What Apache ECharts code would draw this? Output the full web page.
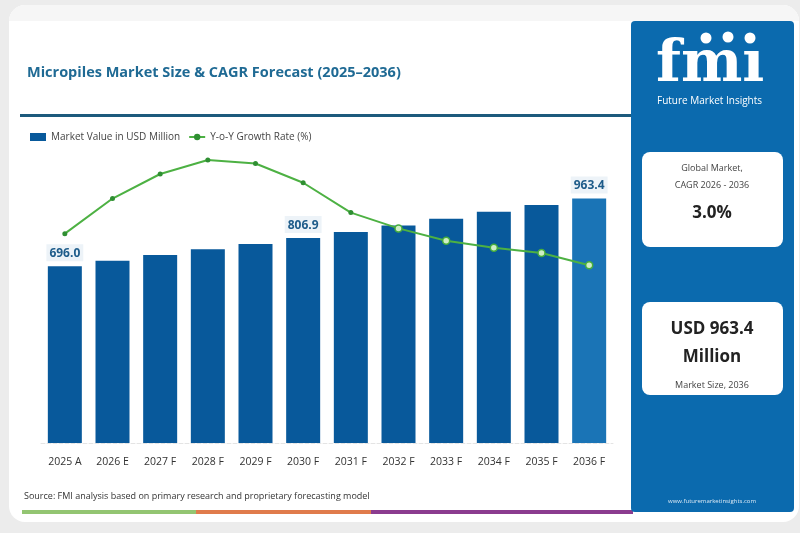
<!DOCTYPE html>
<html>
<head>
<meta charset="utf-8">
<script src="https://cdn.jsdelivr.net/npm/echarts@6/dist/echarts.min.js"></script>
<style>
  html, body { margin: 0; padding: 0; background: #ececec; }
  #chart { width: 800px; height: 533px; }
</style>
</head>
<body>
<div id="chart"></div>
<script>
var years = ['2025 A', '2026 E', '2027 F', '2028 F', '2029 F', '2030 F', '2031 F', '2032 F', '2033 F', '2034 F', '2035 F', '2036 F'];
var marketValue = [696.0, 717.7, 740.0, 762.6, 783.5, 806.9, 831.0, 857.0, 883.0, 910.6, 937.0, 963.4];
var growthRate = [2.88, 3.08, 3.22, 3.30, 3.28, 3.17, 3.00, 2.91, 2.84, 2.80, 2.77, 2.70];
var labelledYears = ['2025 A', '2030 F', '2036 F'];

var font = '"Open Sans", "Noto Sans", sans-serif';
var myChart = echarts.init(document.getElementById('chart'));

var barData = marketValue.map(function (v, i) {
    var item = { value: v };
    if (i === marketValue.length - 1) {
        item.itemStyle = { color: '#1a74b6' };
    }
    if (labelledYears.indexOf(years[i]) >= 0) {
        item.label = { show: true };
    }
    return item;
});

var lineData = growthRate.map(function (v, i) {
    var item = { value: v };
    if (i >= 7) {
        item.itemStyle = { color: '#cfeec6', borderColor: '#46ad3c', borderWidth: 1.5 };
        item.symbolSize = 7;
    }
    return item;
});

var option = {
    backgroundColor: '#ececec',
    textStyle: { fontFamily: font },
    graphic: [
        // card
        { type: 'rect', shape: { x: 9, y: 5, width: 790, height: 517, r: 16 }, style: { fill: '#ffffff' }, z: -10 },
        { type: 'rect', shape: { x: 9, y: 5, width: 790, height: 16, r: [16, 16, 0, 0] }, style: { fill: '#f6f6f6' }, z: -9 },
        // title
        { type: 'text', left: 27, top: 65, style: { text: 'Micropiles Market Size & CAGR Forecast (2025\u20132036)', fill: '#1f6a94', font: 'bold 14.5px ' + font } },
        // divider
        { type: 'rect', shape: { x: 20, y: 114, width: 612, height: 3 }, style: { fill: '#1d5a7c' } },
        // source
        { type: 'text', left: 24, top: 492, style: { text: 'Source: FMI analysis based on primary research and proprietary forecasting model', fill: '#333333', font: '9px ' + font } },
        // bottom tri-color line
        { type: 'rect', shape: { x: 22, y: 510, width: 174, height: 4 }, style: { fill: '#93c572' } },
        { type: 'rect', shape: { x: 196, y: 510, width: 175, height: 4 }, style: { fill: '#e07b4c' } },
        { type: 'rect', shape: { x: 371, y: 510, width: 262, height: 4 }, style: { fill: '#8b3c8f' } },
        // right panel
        { type: 'rect', shape: { x: 631, y: 21, width: 163, height: 491, r: 4 }, style: { fill: '#0b6aae' } },
        { type: 'text', left: 656, top: 37, style: { text: 'fmı', fill: '#ffffff', font: 'bold 58px "DejaVu Serif", serif' } },
        { type: 'circle', shape: { cx: 706, cy: 38, r: 5.5 }, style: { fill: '#ffffff' } },
        { type: 'circle', shape: { cx: 728, cy: 37, r: 5.5 }, style: { fill: '#ffffff' } },
        { type: 'circle', shape: { cx: 750, cy: 38, r: 5.5 }, style: { fill: '#ffffff' } },
        { type: 'text', left: 657, top: 96, style: { text: 'Future Market Insights', fill: '#ffffff', font: '10px ' + font } },
        // CAGR box
        { type: 'rect', shape: { x: 642, y: 152, width: 141, height: 95, r: 8 }, style: { fill: '#ffffff' } },
        { type: 'text', x: 712, y: 168, style: { text: 'Global Market,', fill: '#444444', font: '9px ' + font, align: 'center', verticalAlign: 'middle' } },
        { type: 'text', x: 712, y: 185, style: { text: 'CAGR 2026 - 2036', fill: '#444444', font: '9px ' + font, align: 'center', verticalAlign: 'middle' } },
        { type: 'text', x: 712, y: 213, style: { text: '3.0%', fill: '#222222', font: 'bold 17px ' + font, align: 'center', verticalAlign: 'middle' } },
        // market size box
        { type: 'rect', shape: { x: 642, y: 302, width: 141, height: 93, r: 8 }, style: { fill: '#ffffff' } },
        { type: 'text', x: 712, y: 329, style: { text: 'USD 963.4', fill: '#222222', font: 'bold 17px ' + font, align: 'center', verticalAlign: 'middle' } },
        { type: 'text', x: 712, y: 357, style: { text: 'Million', fill: '#222222', font: 'bold 17px ' + font, align: 'center', verticalAlign: 'middle' } },
        { type: 'text', x: 712, y: 385, style: { text: 'Market Size, 2036', fill: '#444444', font: '9px ' + font, align: 'center', verticalAlign: 'middle' } },
        // website
        { type: 'text', x: 712, y: 501, style: { text: 'www.futuremarketinsights.com', fill: '#dbe9f5', font: '6px ' + font, align: 'center', verticalAlign: 'middle' } }
    ],
    legend: {
        left: 25,
        top: 127,
        itemGap: 8,
        itemWidth: 16,
        itemHeight: 8,
        textStyle: { fontSize: 10, color: '#444444', fontFamily: font },
        data: [
            { name: 'Market Value in USD Million', icon: 'rect' },
            { name: 'Y-o-Y Growth Rate (%)' }
        ]
    },
    grid: { left: 41, right: 187, top: 151, bottom: 90 },
    xAxis: {
        type: 'category',
        data: years,
        axisTick: { show: false },
        axisLine: { lineStyle: { color: '#e4e4e4', type: 'dashed' } },
        axisLabel: { color: '#333333', fontSize: 10.5, margin: 14, fontFamily: font }
    },
    yAxis: [
        { type: 'value', min: 0, max: 1150, show: false, splitLine: { show: false } },
        { type: 'value', min: 1.687, max: 3.351, show: false, splitLine: { show: false } }
    ],
    series: [
        {
            name: 'Market Value in USD Million',
            type: 'bar',
            barWidth: 34,
            data: barData,
            itemStyle: { color: '#08599b' },
            label: {
                show: false,
                position: 'top',
                distance: 5,
                formatter: function (p) { return p.value.toFixed(1); },
                color: '#1e5c8a',
                fontWeight: 'bold',
                fontSize: 12,
                fontFamily: font,
                backgroundColor: '#edf3f8',
                padding: [3, 3, 2, 3]
            }
        },
        {
            name: 'Y-o-Y Growth Rate (%)',
            type: 'line',
            yAxisIndex: 1,
            data: lineData,
            symbol: 'circle',
            symbolSize: 5,
            lineStyle: { color: '#4db143', width: 2 },
            itemStyle: { color: '#2f8f32' },
            z: 5
        }
    ]
};

myChart.setOption(option);
</script>
</body>
</html>
